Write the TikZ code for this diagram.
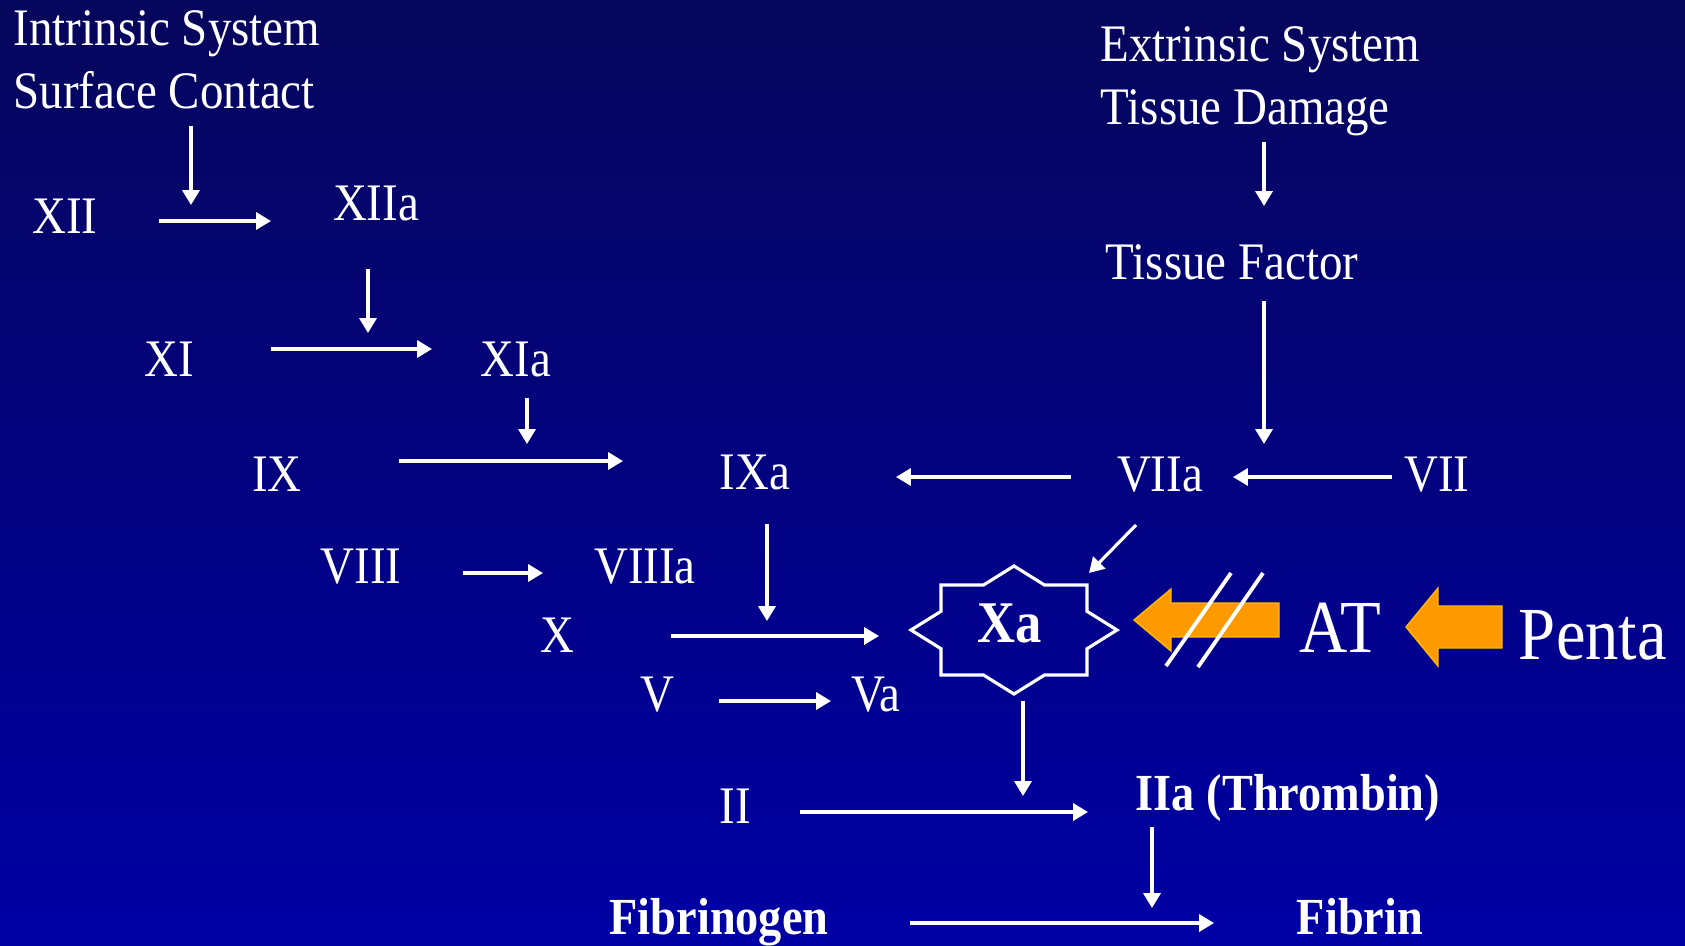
\documentclass[tikz,border=0pt]{standalone}
\usepackage{fontspec}
\setmainfont{Liberation Serif}[FakeStretch=0.89]
\usetikzlibrary{arrows.meta}
\definecolor{bgtop}{RGB}{6,6,92}
\definecolor{bgbot}{RGB}{0,0,165}
\definecolor{atorange}{RGB}{255,153,0}

\begin{document}
\begin{tikzpicture}[x=0.01cm,y=-0.01cm,
  lbl/.style={text=white,inner sep=0pt,font=\fontsize{15}{18}\selectfont,anchor=base},
  hdr/.style={lbl,anchor=base west},
  bld/.style={lbl,font=\fontsize{14.8}{18}\selectfont\bfseries},
  big/.style={lbl,font=\fontsize{21.3}{25}\selectfont},
  arr/.style={white,line width=0.9pt,-{Triangle[length=4.2pt,width=4.8pt]}},
  stellate/.style={draw=white,line width=0.9pt},
  blocker/.style={fill=atorange,draw=atorange!70!yellow,line width=0.4pt},
  slash/.style={white,line width=1.1pt}]

% background
\useasboundingbox (0,0) rectangle (1685,945);
\shade[top color=bgtop,bottom color=bgbot] (0,0) rectangle (1685,945);

% headings
\node[hdr] (intr)  at (13,45)    {Intrinsic System};
\node[hdr] (surf)  at (13,108)   {Surface Contact};
\node[hdr] (extr)  at (1100,61)  {Extrinsic System};
\node[hdr] (tdam)  at (1100,124) {Tissue Damage};

% factors
\node[lbl] (xii)   at (65,233)   {XII};
\node[lbl] (xiia)  at (376,220)  {XIIa};
\node[lbl] (xi)    at (169,376)  {XI};
\node[lbl] (xia)   at (516,376)  {XIa};
\node[lbl] (ix)    at (277,491)  {IX};
\node[lbl] (ixa)   at (755,489)  {IXa};
\node[lbl] (viii)  at (361,583)  {VIII};
\node[lbl] (viiia) at (645,583)  {VIIIa};
\node[lbl] (x)     at (557,652)  {X};
\node[lbl] (v)     at (657,711)  {V};
\node[lbl] (va)    at (876,711)  {Va};
\node[lbl] (ii)    at (735,823)  {II};
\node[lbl] (tf)    at (1232,279) {Tissue Factor};
\node[lbl] (viia)  at (1160,491) {VIIa};
\node[lbl] (vii)   at (1437,491) {VII};
\node[bld] (iia)   at (1288,810) {IIa (Thrombin)};
\node[bld] (fbg)   at (719,934)  {Fibrinogen};
\node[bld] (fbn)   at (1360,934) {Fibrin};

% central factor Xa in its eight-pointed star
\begin{scope}[shift={(1014,630)}]
  \draw[stellate] (0,-64) -- (30.5,-45) -- (73,-45) -- (73,-18.7) -- (103,0)
    -- (73,18.7) -- (73,45) -- (30.5,45) -- (0,64) -- (-30.5,45) -- (-73,45)
    -- (-73,18.7) -- (-103,0) -- (-73,-18.7) -- (-73,-45) -- (-30.5,-45) -- cycle;
\end{scope}
\node[lbl,font=\fontsize{16.8}{20}\selectfont\bfseries] (xa) at (1010,642) {Xa};

% antithrombin and pentasaccharide
\node[big] (at)    at (1340,652) {AT};
\node[big] (penta) at (1593,659) {Penta};

% block arrows
\draw[blocker] (1134,620) -- (1171,589) -- (1171,603) -- (1279,603) -- (1279,637)
  -- (1171,637) -- (1171,651) -- cycle;
\draw[blocker] (1406,627) -- (1438,588) -- (1438,606) -- (1502,606) -- (1502,648)
  -- (1438,648) -- (1438,666) -- cycle;
% inhibition strokes
\coordinate (s1a) at (1166,666); \coordinate (s1b) at (1231,573);
\coordinate (s2a) at (1198,667); \coordinate (s2b) at (1263,573);
\draw[slash] (s1a) -- (s1b);
\draw[slash] (s2a) -- (s2b);

% reaction arrows
\coordinate (a1s) at (191,126);  \coordinate (a1e) at (191,205);
\coordinate (a2s) at (159,221);  \coordinate (a2e) at (271,221);
\coordinate (a3s) at (368,269);  \coordinate (a3e) at (368,333);
\coordinate (a4s) at (271,349);  \coordinate (a4e) at (432,349);
\coordinate (a5s) at (527,398);  \coordinate (a5e) at (527,444);
\coordinate (a6s) at (399,461);  \coordinate (a6e) at (623,461);
\coordinate (a7s) at (1071,477); \coordinate (a7e) at (896,477);
\coordinate (a8s) at (1392,477); \coordinate (a8e) at (1233,477);
\coordinate (a9s) at (1264,142); \coordinate (a9e) at (1264,206);
\coordinate (b1s) at (1264,301); \coordinate (b1e) at (1264,444);
\coordinate (b2s) at (1136,525); \coordinate (b2e) at (1089,573);
\coordinate (b3s) at (463,573);  \coordinate (b3e) at (543,573);
\coordinate (b4s) at (767,524);  \coordinate (b4e) at (767,621);
\coordinate (b5s) at (671,636);  \coordinate (b5e) at (879,636);
\coordinate (b6s) at (719,701);  \coordinate (b6e) at (831,701);
\coordinate (b7s) at (1023,701); \coordinate (b7e) at (1023,796);
\coordinate (b8s) at (800,812);  \coordinate (b8e) at (1088,812);
\coordinate (b9s) at (1152,827); \coordinate (b9e) at (1152,908);
\coordinate (c1s) at (910,923);  \coordinate (c1e) at (1214,923);

\foreach \p in {a1,a2,a3,a4,a5,a6,a7,a8,a9,b1,b2,b3,b4,b5,b6,b7,b8,b9,c1}
  \draw[arr] (\p s) -- (\p e);
\end{tikzpicture}
\end{document}
